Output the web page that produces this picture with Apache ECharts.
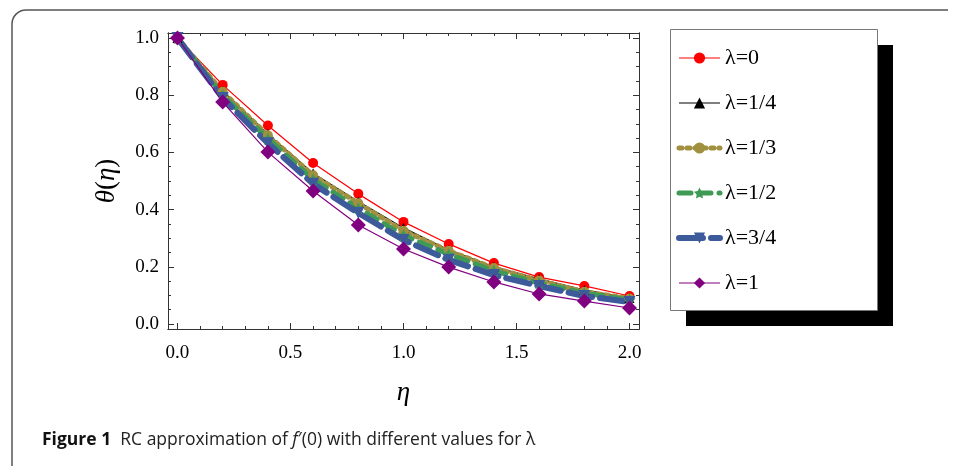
<!DOCTYPE html>
<html>
<head>
<meta charset="utf-8">
<script src="https://cdn.jsdelivr.net/npm/echarts@6/dist/echarts.min.js"></script>
<style>
  html, body { margin: 0; padding: 0; background: #fff; }
  #chart { width: 960px; height: 467px; }
</style>
</head>
<body>
<div id="chart"></div>
<script>
// eta values and theta(eta) for each lambda
const eta = [0, 0.2, 0.4, 0.6, 0.8, 1.0, 1.2, 1.4, 1.6, 1.8, 2.0];
const theta0 = [1.0, 0.836, 0.694, 0.563, 0.455, 0.357, 0.280, 0.213, 0.164, 0.133, 0.098];
const theta14 = [1.0, 0.815, 0.664, 0.527, 0.428, 0.336, 0.259, 0.200, 0.158, 0.119, 0.091];
const theta13 = [1.0, 0.812, 0.660, 0.520, 0.422, 0.326, 0.256, 0.196, 0.152, 0.113, 0.089];
const theta12 = [1.0, 0.800, 0.648, 0.505, 0.405, 0.310, 0.244, 0.186, 0.143, 0.108, 0.084];
const theta34 = [1.0, 0.790, 0.632, 0.490, 0.388, 0.294, 0.224, 0.171, 0.133, 0.098, 0.077];
const theta1 = [1.0, 0.776, 0.601, 0.465, 0.346, 0.262, 0.199, 0.147, 0.105, 0.080, 0.056];

const seriesNames = ['λ=0', 'λ=1/4', 'λ=1/3', 'λ=1/2', 'λ=3/4', 'λ=1'];

// tick positions
const xMajor = [0, 0.5, 1.0, 1.5, 2.0];
const xMinor = [0, 0.1, 0.2, 0.3, 0.4, 0.5, 0.6, 0.7, 0.8, 0.9, 1.0, 1.1, 1.2, 1.3, 1.4, 1.5, 1.6, 1.7, 1.8, 1.9, 2.0];
const yMajor = [0, 0.2, 0.4, 0.6, 0.8, 1.0];
const yMinor = [0, 0.05, 0.1, 0.15, 0.2, 0.25, 0.3, 0.35, 0.4, 0.45, 0.5, 0.55, 0.6, 0.65, 0.7, 0.75, 0.8, 0.85, 0.9, 0.95, 1.0];

const chart = echarts.init(document.getElementById('chart'));
const serif = 'Liberation Serif';
const frameColor = '#333';

function axisDef(pos, range, ticks, len, withLabel, margin) {
    return {
        type: 'value',
        position: pos,
        min: range[0],
        max: range[1],
        axisLine: { show: true, onZero: false, lineStyle: { color: frameColor, width: 1 } },
        axisTick: { show: true, inside: true, length: len, customValues: ticks, lineStyle: { color: frameColor, width: 1 } },
        axisLabel: {
            show: withLabel,
            customValues: ticks,
            margin: margin || 8,
            formatter: v => v.toFixed(1),
            color: '#000',
            fontFamily: serif,
            fontSize: 19
        },
        splitLine: { show: false }
    };
}

const xRange = [-0.042, 2.042];
const yRange = [-0.0175, 1.0175];

const xAxes = [
    axisDef('bottom', xRange, xMajor, 6, true, 15),
    axisDef('bottom', xRange, xMinor, 3, false),
    axisDef('top', xRange, xMajor, 6, false),
    axisDef('top', xRange, xMinor, 3, false)
];
const yAxes = [
    axisDef('left', yRange, yMajor, 6, true, 9),
    axisDef('left', yRange, yMinor, 3, false),
    axisDef('right', yRange, yMajor, 6, false),
    axisDef('right', yRange, yMinor, 3, false)
];

xAxes[0].name = 'η';
xAxes[0].nameLocation = 'middle';
xAxes[0].nameGap = 50;
xAxes[0].nameTextStyle = { fontFamily: serif, fontStyle: 'italic', fontSize: 27, color: '#000' };

yAxes[0].name = '{i|θ}{n|(}{i|η}{n|)}';
yAxes[0].nameLocation = 'middle';
yAxes[0].nameGap = 48;
yAxes[0].nameRotate = 90;
yAxes[0].nameTextStyle = {
    rich: {
        i: { fontFamily: serif, fontStyle: 'italic', fontSize: 27, color: '#000' },
        n: { fontFamily: serif, fontSize: 27, color: '#000' }
    }
};

function pairs(ys) {
    return eta.map((x, i) => [x, ys[i]]);
}

const starPath = 'path://M0,-10 L2.9,-4 L9.5,-3.1 L4.8,1.5 L5.9,8.1 L0,5 L-5.9,8.1 L-4.8,1.5 L-9.5,-3.1 L-2.9,-4 Z';

const styles = [
    { data: theta0, color: '#ff0000', width: 1.2, type: 'solid', symbol: 'circle', size: 10 },
    { data: theta14, color: '#000000', width: 1.2, type: 'solid', symbol: 'triangle', size: 10 },
    { data: theta13, color: '#a09040', width: 5, type: [3, 5], symbol: 'circle', size: 10 },
    { data: theta12, color: '#3f9a55', width: 5, type: [12, 8], symbol: starPath, size: 12 },
    { data: theta34, color: '#3d5a9a', width: 6, type: [24, 8], symbol: 'triangle', rotate: 180, size: 12 },
    { data: theta1, color: '#800080', width: 1.2, type: 'solid', symbol: 'diamond', size: 15 }
];

const series = styles.map((s, i) => ({
    name: seriesNames[i],
    type: 'line',
    xAxisIndex: 0,
    yAxisIndex: 0,
    data: pairs(s.data),
    symbol: s.symbol,
    symbolSize: s.size,
    symbolRotate: s.rotate || 0,
    showAllSymbol: true,
    clip: false,
    lineStyle: { color: s.color, width: s.width, type: s.type, cap: s.type === 'solid' ? 'butt' : 'round' },
    itemStyle: { color: s.color },
    emphasis: { disabled: true },
    animation: false
}));

const option = {
    animation: false,
    grid: { left: 168, right: 321, top: 33, bottom: 138, containLabel: false },
    xAxis: xAxes,
    yAxis: yAxes,
    legend: {
        orient: 'vertical',
        left: 676,
        top: 47,
        padding: 0,
        itemWidth: 41,
        itemHeight: 14,
        itemGap: 23,
        data: seriesNames,
        lineStyle: { width: 'inherit' },
        textStyle: { fontFamily: serif, fontSize: 22, color: '#000' }
    },
    series: series,
    graphic: [
        // outer figure border (top and left, rounded corner)
        {
            type: 'polyline',
            z: 0,
            shape: { points: [[948, 10], [26, 10]] },
            style: { fill: null, stroke: '#555', lineWidth: 1.5 }
        },
        {
            type: 'arc',
            z: 0,
            shape: { cx: 26, cy: 24, r: 14, startAngle: Math.PI, endAngle: Math.PI * 1.5 },
            style: { fill: null, stroke: '#555', lineWidth: 1.5 }
        },
        {
            type: 'polyline',
            z: 0,
            shape: { points: [[12, 24], [12, 466]] },
            style: { fill: null, stroke: '#555', lineWidth: 1.5 }
        },
        // legend shadow and box
        {
            type: 'rect',
            z: 0,
            shape: { x: 686, y: 45, width: 207, height: 281 },
            style: { fill: '#000' }
        },
        {
            type: 'rect',
            z: 0,
            shape: { x: 670.5, y: 29.5, width: 207, height: 281 },
            style: { fill: '#fff', stroke: '#777', lineWidth: 1 }
        },
        // caption
        {
            type: 'text',
            z: 0,
            style: {
                x: 42,
                y: 440,
                verticalAlign: 'middle',
                text: '{b|Figure 1}  RC approximation of {i|f}′(0) with different values for λ',
                fontFamily: 'Open Sans',
                fontSize: 17.5,
                fill: '#222',
                rich: {
                    b: { fontFamily: 'Open Sans', fontWeight: 'bold', fontSize: 17.5, fill: '#111' },
                    i: { fontFamily: 'Open Sans', fontStyle: 'italic', fontSize: 17.5, fill: '#222' }
                }
            }
        }
    ]
};

chart.setOption(option);
</script>
</body>
</html>
